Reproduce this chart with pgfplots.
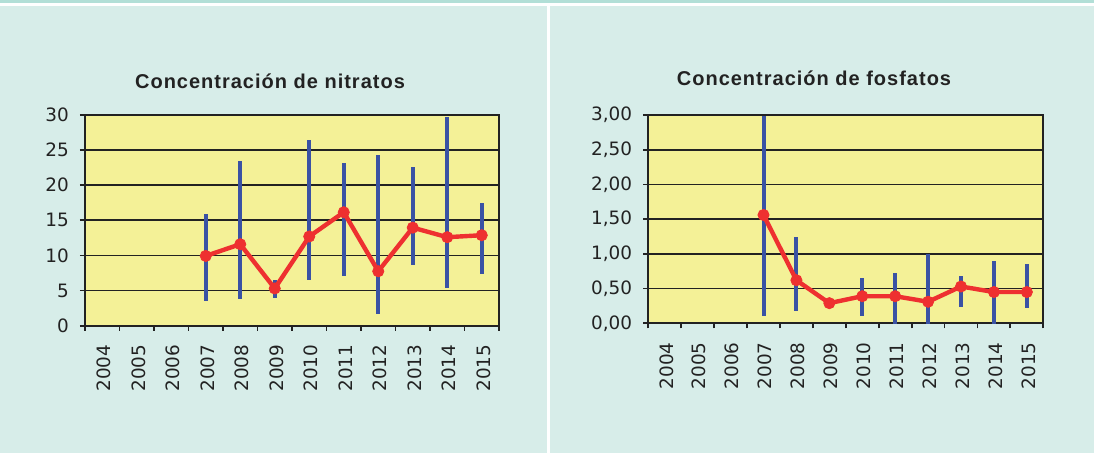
\documentclass[border=0pt]{standalone}
\usepackage{pgfplots}
\pgfplotsset{compat=1.18}
\usepackage{pgfplotstable}
\usepackage{fontspec}
\setmainfont{DejaVu Sans}
\newfontfamily\titlefont{Liberation Sans}[LetterSpace=5]
\definecolor{bgteal}{HTML}{D7EDE9}
\definecolor{topteal}{HTML}{B2DFD7}
\definecolor{plotyellow}{HTML}{F4F197}
\definecolor{barblue}{HTML}{3A52A4}
\definecolor{linered}{HTML}{EE3030}
\definecolor{gridc}{HTML}{222222}

\pgfplotstableread{
x m lo hi
3 9.93 3.56 15.9
4 11.6 3.8 23.46
5 5.3 4.0 6.46
6 12.7 6.5 26.45
7 16.15 7.08 23.2
8 7.75 1.7 24.3
9 13.96 8.7 22.65
10 12.6 5.4 29.7
11 12.88 7.36 17.5
}\nitr

\pgfplotstableread{
x m lo hi
3 1.56 0.11 2.98
4 0.62 0.17 1.25
5 0.29 0.26 0.32
6 0.39 0.105 0.65
7 0.39 -0.03 0.73
8 0.31 -0.03 1.0
9 0.53 0.24 0.68
10 0.45 -0.03 0.89
11 0.45 0.22 0.86
}\fosf

\pgfplotsset{
  mystyle/.style={
    scale only axis,
    anchor=south west,
    axis background/.style={fill=plotyellow},
    axis line style={draw=gridc, line width=0.9pt},
    xmin=-0.5, xmax=11.5,
    xtick={-0.5,0.5,...,11.5},
    xticklabels={},
    extra x ticks={0,...,11},
    extra x tick labels={2004,2005,2006,2007,2008,2009,2010,2011,2012,2013,2014,2015},
    extra x tick style={major tick length=0pt,
      xticklabel style={rotate=90, anchor=east, font=\fontsize{9.2}{10}\selectfont, text=gridc, xshift=-6pt, yshift=-0.8pt}},
    tick pos=left,
    tick align=outside,
    major tick length=2.6pt,
    tick style={draw=gridc, line width=0.9pt},
    ymajorgrids,
    grid style={draw=gridc, line width=0.9pt},
    yticklabel style={font=\fontsize{9.2}{10}\selectfont, text=gridc, xshift=-2pt},
    /pgf/number format/assume math mode=true,
    axis on top=false,
  }
}

\begin{document}
\begin{tikzpicture}
\fill[bgteal] (0,0) rectangle (547pt,226.5pt);
\fill[white] (0,223.5pt) rectangle (547pt,226.5pt);
\fill[topteal] (0,224.85pt) rectangle (547pt,226.5pt);
\fill[white] (273.65pt,0) rectangle (275pt,223.5pt);

\node[anchor=base, font=\titlefont\bfseries\fontsize{10}{12}\selectfont, text=gridc] at (135pt,182pt) {Concentración de nitratos};
\node[anchor=base, font=\titlefont\bfseries\fontsize{10}{12}\selectfont, text=gridc] at (407pt,183.8pt) {Concentración de fosfatos};

\begin{axis}[mystyle,
  at={(42.5pt,63.65pt)}, width=207pt, height=105.35pt,
  ymin=0, ymax=30, ytick={0,5,...,30}]
\addplot[draw=none, mark=none, forget plot,
  error bars/.cd, y dir=both, y explicit, error mark=none,
  error bar style={barblue, line width=2pt}]
  table[x=x, y=m, y error plus expr=\thisrow{hi}-\thisrow{m}, y error minus expr=\thisrow{m}-\thisrow{lo}] {\nitr};
\addplot[linered, line width=2.2pt, mark=*, mark size=2.8pt, mark options={solid, fill=linered, draw=linered, line width=0.4pt}]
  table[x=x, y=m] {\nitr};
\end{axis}

\begin{axis}[mystyle,
  at={(324.15pt,64.85pt)}, width=197.5pt, height=104.15pt,
  ymin=0, ymax=3, ytick={0,0.5,...,3},
  yticklabel style={/pgf/number format/.cd, fixed, fixed zerofill, precision=2, use comma}]
\addplot[draw=none, mark=none, forget plot,
  error bars/.cd, y dir=both, y explicit, error mark=none,
  error bar style={barblue, line width=2pt}]
  table[x=x, y=m, y error plus expr=\thisrow{hi}-\thisrow{m}, y error minus expr=\thisrow{m}-\thisrow{lo}] {\fosf};
\addplot[linered, line width=2.2pt, mark=*, mark size=2.8pt, mark options={solid, fill=linered, draw=linered, line width=0.4pt}]
  table[x=x, y=m] {\fosf};
\end{axis}

\pgfresetboundingbox
\useasboundingbox (0,0) rectangle (547pt,226.5pt);
\end{tikzpicture}
\end{document}
